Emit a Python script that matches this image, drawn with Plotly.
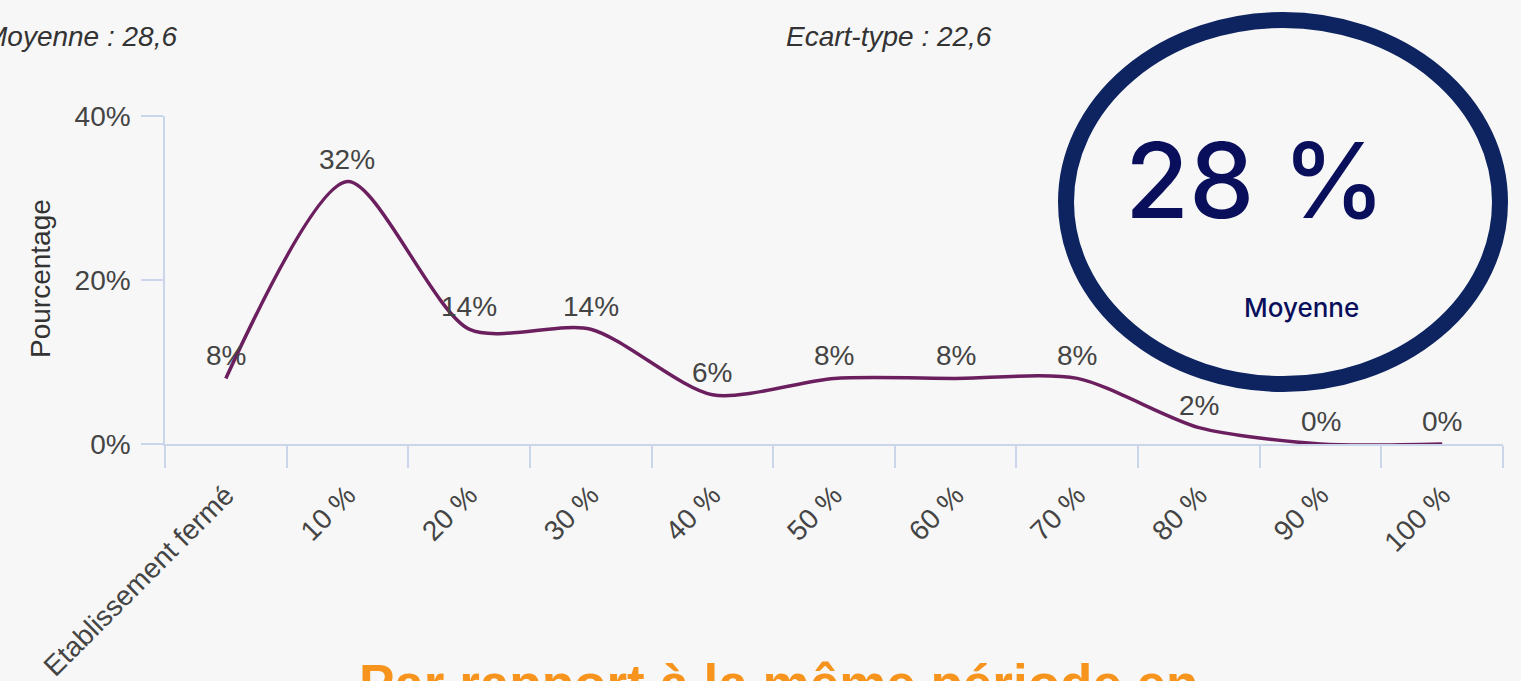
import plotly.graph_objects as go

categories = ["Etablissement fermé", "10 %", "20 %", "30 %", "40 %", "50 %",
              "60 %", "70 %", "80 %", "90 %", "100 %"]
values = [8, 32, 14, 14, 6, 8, 8, 8, 2, 0, 0]
y_ticks = [0, 20, 40]
y_tick_labels = ["0%", "20%", "40%"]
mean_text = "Moyenne : 28,6"
std_text = "Ecart-type : 22,6"
badge_value = "28 %"
badge_label = "Moyenne"
footer_text = "Par rapport à la même période en"

W, H = 1521, 681
L, R, T, B = 165, 18, 116, 237
PW, PH = W - L - R, H - T - B


def px(x):
    return (x - L) / PW


def py(y):
    return (H - B - y) / PH


FONT = "Liberation Sans, Arial, sans-serif"
AXIS_COLOR = "#ccd6eb"
TEXT_COLOR = "#444444"
BG = "#f7f7f7"

fig = go.Figure()
fig.add_trace(go.Scatter(
    x=categories, y=values, mode="lines",
    line=dict(color="#6b1f5f", width=3.5, shape="spline", smoothing=0.75),
    hoverinfo="skip", showlegend=False, cliponaxis=False,
))

annotations = []
for c, v in zip(categories, values):
    annotations.append(dict(
        x=c, y=v, xref="x", yref="y", text=f"{v}%", showarrow=False,
        yanchor="bottom", yshift=5,
        font=dict(family=FONT, size=28, color=TEXT_COLOR),
    ))

annotations += [
    dict(x=px(179), y=py(37), xref="paper", yref="paper", text=f"<i>{mean_text}</i>",
         showarrow=False, xanchor="right", yanchor="middle",
         font=dict(family=FONT, size=28, color="#333333")),
    dict(x=px(784), y=py(37), xref="paper", yref="paper", text=f"<i>{std_text}</i>",
         showarrow=False, xanchor="left", yanchor="middle",
         font=dict(family=FONT, size=28, color="#333333")),
    dict(x=px(40), y=py(279), xref="paper", yref="paper", text="Pourcentage",
         showarrow=False, textangle=-90, xanchor="center", yanchor="middle",
         font=dict(family=FONT, size=28, color="#333333")),
    dict(x=px(1255), y=py(180), xref="paper", yref="paper", text=badge_value,
         showarrow=False, xanchor="center", yanchor="middle",
         font=dict(family="Inter, Roboto, sans-serif", size=104, color="#0a0f5c", weight=500)),
    dict(x=px(1301), y=py(307), xref="paper", yref="paper", text=badge_label,
         showarrow=False, xanchor="center", yanchor="middle",
         font=dict(family="Inter, Roboto, sans-serif", size=26, color="#0a0f5c", weight=500)),
    dict(x=px(778), y=py(652), xref="paper", yref="paper", text=f"<b>{footer_text}</b>",
         showarrow=False, xanchor="center", yanchor="top",
         font=dict(family="Liberation Sans, Arial, sans-serif", size=53, color="#f7941d")),
]

shapes = [dict(
    type="circle", xref="paper", yref="paper",
    x0=px(1066), x1=px(1500), y0=py(384), y1=py(20),
    line=dict(color="#0e2461", width=16), fillcolor="rgba(0,0,0,0)", layer="above",
)]

fig.update_layout(
    width=W, height=H,
    margin=dict(l=L, r=R, t=T, b=B, pad=0, autoexpand=False),
    paper_bgcolor=BG, plot_bgcolor=BG,
    font=dict(family=FONT, size=28, color=TEXT_COLOR),
    annotations=annotations, shapes=shapes,
    xaxis=dict(
        type="category", categoryorder="array", categoryarray=categories,
        range=[-0.5, len(categories) - 0.5], automargin=False,
        tickson="boundaries", ticks="outside", ticklen=22, tickcolor=AXIS_COLOR, tickwidth=1.5,
        showline=True, linecolor=AXIS_COLOR, linewidth=1.5,
        showgrid=False, zeroline=False, tickangle=-45, ticklabelstandoff=22,
        tickfont=dict(family=FONT, size=28, color=TEXT_COLOR),
    ),
    yaxis=dict(
        range=[0, 40], tickmode="array", tickvals=y_ticks, ticktext=y_tick_labels,
        automargin=False,
        ticks="outside", ticklen=22, tickcolor=AXIS_COLOR, tickwidth=1.5,
        showline=True, linecolor=AXIS_COLOR, linewidth=1.5,
        showgrid=False, zeroline=False, ticklabelstandoff=5,
        tickfont=dict(family=FONT, size=28, color=TEXT_COLOR),
    ),
)

fig.write_html("out.html", config={"displayModeBar": False},
               post_script="document.body.style.margin='0';")
